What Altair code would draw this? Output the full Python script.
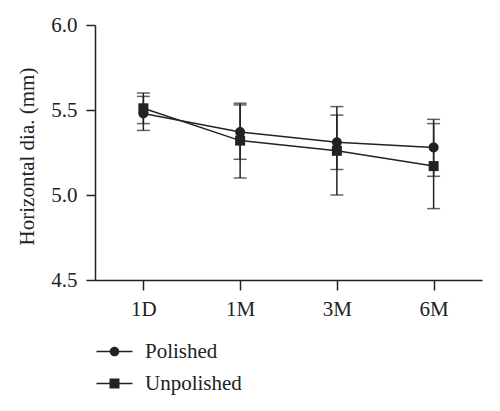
import altair as alt
import pandas as pd

times = ["1D", "1M", "3M", "6M"]
series = ["Polished", "Unpolished"]
polished_mean = [5.48, 5.37, 5.31, 5.28]
polished_hi = [5.58, 5.53, 5.47, 5.445]
polished_lo = [5.38, 5.21, 5.15, 5.11]
unpolished_mean = [5.51, 5.32, 5.26, 5.17]
unpolished_hi = [5.60, 5.54, 5.52, 5.42]
unpolished_lo = [5.42, 5.10, 5.00, 4.92]
y_ticks = [4.5, 5.0, 5.5, 6.0]

rows = []
for i, t in enumerate(times):
    rows.append({"time": t, "group": series[0], "mean": polished_mean[i],
                 "lo": polished_lo[i], "hi": polished_hi[i]})
    rows.append({"time": t, "group": series[1], "mean": unpolished_mean[i],
                 "lo": unpolished_lo[i], "hi": unpolished_hi[i]})
df = pd.DataFrame(rows)

INK = "#222222"
FONT = "Liberation Serif"
FS = 21

x_enc = alt.X("time:N", sort=times,
              scale=alt.Scale(type="point", padding=0.5),
              axis=alt.Axis(title=None, labelAngle=0, tickSize=10, labelPadding=8,
                            labelFontSize=FS, domainColor=INK, tickColor=INK,
                            domainWidth=1.5, tickWidth=1.5, labelColor=INK))
y_scale = alt.Scale(domain=[4.5, 6.0], nice=False, zero=False)
y_enc = alt.Y("mean:Q", scale=y_scale,
              axis=alt.Axis(title="Horizontal dia. (mm)", values=y_ticks, format=".1f",
                            tickSize=9, labelPadding=9, labelFontSize=FS, grid=False,
                            titleFontSize=FS, titleFontWeight="normal",
                            titleX=-68, titleY=131, titleAngle=270,
                            titleAlign="center", titleBaseline="middle",
                            domainColor=INK, tickColor=INK, domainWidth=1.5,
                            tickWidth=1.5, labelColor=INK, titleColor=INK))

base = alt.Chart(df)

bars = base.mark_rule(color=INK, strokeWidth=1.5).encode(
    x=x_enc, y=alt.Y("lo:Q", scale=y_scale), y2="hi:Q")
cap_lo = base.mark_tick(color=INK, thickness=1.5, size=13).encode(
    x=x_enc, y=alt.Y("lo:Q", scale=y_scale))
cap_hi = base.mark_tick(color=INK, thickness=1.5, size=13).encode(
    x=x_enc, y=alt.Y("hi:Q", scale=y_scale))
lines = base.mark_line(color=INK, strokeWidth=1.5).encode(
    x=x_enc, y=y_enc, detail="group:N")
points = base.mark_point(filled=True, opacity=1, color=INK, size=100).encode(
    x=x_enc, y=y_enc,
    shape=alt.Shape("group:N", scale=alt.Scale(domain=series, range=["circle", "square"]),
                    legend=None))

bar_path = "M-1.8,-0.075H1.8V0.075H-1.8Z"
leg_circle = bar_path + "M-0.48,0A0.48,0.48,0,1,1,0.48,0A0.48,0.48,0,1,1,-0.48,0Z"
leg_square = bar_path + "M-0.5,-0.5H0.5V0.5H-0.5Z"
legend_layer = base.mark_point(filled=True, color=INK, opacity=0, size=400).encode(
    x=x_enc, y=y_enc,
    shape=alt.Shape("group:N",
                    scale=alt.Scale(domain=series, range=[leg_circle, leg_square]),
                    legend=alt.Legend(title=None, orient="none", legendX=9, legendY=316,
                                      symbolOpacity=1, symbolFillColor=INK,
                                      symbolStrokeWidth=0,
                                      symbolSize=400, labelFontSize=FS, labelFont=FONT,
                                      labelColor=INK, labelOffset=20, rowPadding=10,
                                      padding=0)))

chart = alt.layer(bars, cap_lo, cap_hi, lines, points, legend_layer).resolve_scale(
    shape="independent"
).properties(
    width=387, height=255,
    autosize=alt.AutoSizeParams(type="none"),
    padding={"left": 87, "top": 17, "right": 10, "bottom": 126},
).configure_view(stroke=None).configure_axis(
    labelFont=FONT, titleFont=FONT
)

chart.save("out.html", embed_options={"renderer": "svg", "actions": False})
